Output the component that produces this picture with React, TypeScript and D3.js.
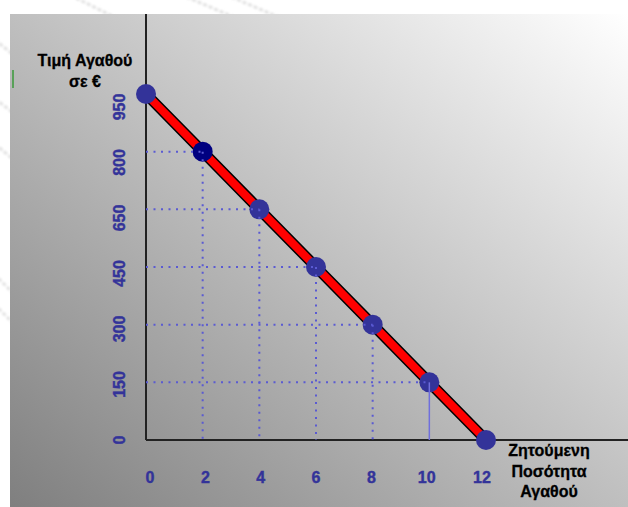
import React from "react";
import * as d3 from "d3";

// Demand schedule: quantity demanded at each price (€)
const quantities = [0, 2, 4, 6, 8, 10, 12];
const prices = [950, 800, 650, 450, 300, 150, 0];

// Price tick labels, bottom to top (equally spaced on the axis)
const priceTicks = ["0", "150", "300", "450", "650", "800", "950"];
const quantityTicks = [0, 2, 4, 6, 8, 10, 12];

const yTitle = ["Τιμή Αγαθού", "σε €"];
const xTitle = ["Ζητούμενη", "Ποσότητα", "Αγαθού"];

const W = 628;
const H = 507;
const panel = { x: 10, y: 14 };

const x = d3.scaleLinear().domain([0, 12]).range([146, 486]);
const y = d3.scalePoint<string>().domain(priceTicks).range([440, 94]);
const xLabel = d3.scaleLinear().domain([0, 12]).range([150, 482]);
const yLabel = d3.scalePoint<string>().domain(priceTicks).range([440, 107]);

const pts = quantities.map((q, i) => ({ q, p: prices[i], px: x(q), py: y(String(prices[i]))! }));

const line = d3
  .line<{ px: number; py: number }>()
  .x((d) => d.px)
  .y((d) => d.py);

const font = "'Liberation Sans', Arial, sans-serif";
const tickColor = "#333399";
const gridColor = "#5a5ad2";

// faint streaks on the white slide margin
const streaks = [
  [60, -10, 120, 20],
  [170, -10, 250, 24],
  [215, -10, 290, 22],
  [-10, 36, 20, 60],
  [-10, 95, 20, 118],
  [-10, 140, 20, 165],
  [-10, 270, 20, 300],
  [-10, 300, 20, 330],
];

export default function App() {
  return (
    <svg
      width={W}
      height={H}
      style={{ position: "absolute", left: 0, top: 0, display: "block" }}
      xmlns="http://www.w3.org/2000/svg"
    >
      <defs>
        <linearGradient id="bg" x1="0" y1="1" x2="1" y2="0">
          <stop offset="0" stopColor="#7f7f7f" />
          <stop offset="1" stopColor="#ffffff" />
        </linearGradient>
        <clipPath id="margin">
          <path d={`M0,0H${W}V${panel.y}H${panel.x}V${H}H0Z`} />
        </clipPath>
        <filter id="soft" x="-20%" y="-20%" width="140%" height="140%">
          <feGaussianBlur stdDeviation="0.8" />
        </filter>
      </defs>
      <rect x={0} y={0} width={W} height={H} fill="#ffffff" />
      <g clipPath="url(#margin)">
        <g stroke="#e2e2e2" strokeWidth={3} strokeDasharray="4 2" filter="url(#soft)">
          {streaks.map((s, i) => (
            <line key={i} x1={s[0]} y1={s[1]} x2={s[2]} y2={s[3]} />
          ))}
        </g>
      </g>
      <rect x={panel.x} y={panel.y} width={W - panel.x} height={H - panel.y} fill="url(#bg)" />

      <line x1={13} x2={13} y1={70} y2={88} stroke="#3a9a3a" strokeWidth={1.5} />

      {/* axes */}
      <line x1={x(0)} x2={x(0)} y1={panel.y} y2={y("0")!} stroke="#222" strokeWidth={2} />
      <line x1={x(0)} x2={W} y1={y("0")!} y2={y("0")!} stroke="#222" strokeWidth={2} />

      {/* demand curve */}
      <path d={line(pts)!} fill="none" stroke="#000" strokeWidth={11} />
      <path d={line(pts)!} fill="none" stroke="#ff0000" strokeWidth={8} />

      {pts.map((d, i) => (
        <circle key={i} cx={d.px} cy={d.py} r={10} fill={d.q === 2 ? "#000080" : "#333399"} />
      ))}

      {/* guide lines from each interior point to both axes */}
      {pts
        .filter((d) => d.q > 0 && d.q < 12)
        .map((d, i) => (
          <g key={i} stroke={gridColor}>
            <line x1={x(0)} x2={d.px} y1={d.py} y2={d.py} strokeWidth={2} strokeDasharray="2 5.5" />
            {d.q === 10 ? (
              <line x1={d.px} x2={d.px} y1={d.py} y2={y("0")!} strokeWidth={1.5} stroke="#6f6fdd" />
            ) : (
              <line x1={d.px} x2={d.px} y1={d.py} y2={y("0")!} strokeWidth={2} strokeDasharray="2 5.5" />
            )}
          </g>
        ))}

      {/* tick labels */}
      <g fontFamily={font} fontWeight="bold" fontSize={16} fill={tickColor} stroke={tickColor} strokeWidth={0.4}>
        {quantityTicks.map((q) => (
          <text key={q} x={xLabel(q)} y={483} textAnchor="middle">
            {q}
          </text>
        ))}
        {priceTicks.map((p) => (
          <text
            key={p}
            transform={`translate(119,${yLabel(p)}) rotate(-90)`}
            textAnchor="middle"
            dominantBaseline="central"
          >
            {p}
          </text>
        ))}
      </g>

      {/* axis titles */}
      <g fontFamily={font} fontWeight="bold" fontSize={16} fill="#000" stroke="#000" strokeWidth={0.3} textAnchor="middle">
        {yTitle.map((t, i) => (
          <text key={t} x={85} y={66 + i * 21}>
            {t}
          </text>
        ))}
        {xTitle.map((t, i) => (
          <text key={t} x={549} y={456 + i * 20.5}>
            {t}
          </text>
        ))}
      </g>
    </svg>
  );
}
